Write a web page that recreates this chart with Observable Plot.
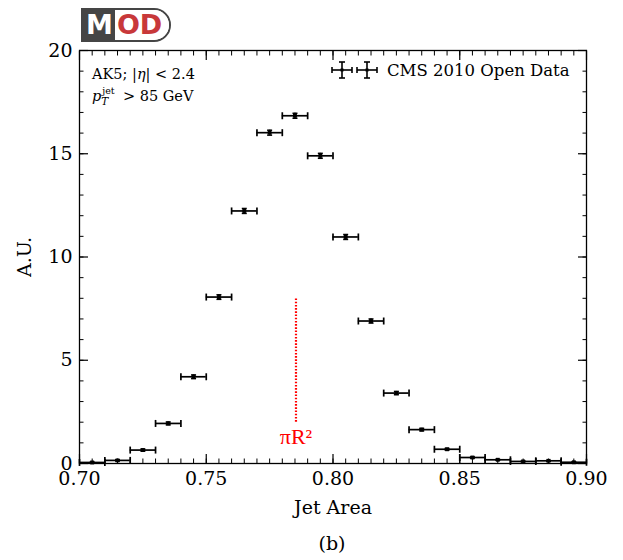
<!DOCTYPE html>
<html><head><meta charset="utf-8">
<script src="https://cdn.jsdelivr.net/npm/d3@7"></script>
<script src="https://cdn.jsdelivr.net/npm/@observablehq/plot@0.6"></script>
<style>
body{margin:0;background:#fff;font-family:"DejaVu Serif",serif;}
#wrap{position:relative;width:623px;height:560px;overflow:hidden;}
#logo{position:absolute;left:81px;top:8px;height:30px;display:flex;align-items:center;border:2.5px solid #454545;border-radius:0 18px 18px 0;overflow:hidden;font-family:"DejaVu Sans",sans-serif;font-weight:bold;font-size:27px;line-height:30px;}
#logo .m{background:#454545;color:#fff;padding:0 2px 0 3px;height:30px;}
#logo .od{color:#c8383a;background:#fff;padding:0 7px 0 2px;height:30px;}
#info{position:absolute;left:92px;top:63px;font-size:14.5px;line-height:22px;color:#000;}
.ss{display:inline-block;position:relative;width:17px;height:10px;}
.ss .sup{position:absolute;left:1px;top:-5px;font-size:9.5px;line-height:9px;}
.ss .sub{position:absolute;left:0px;top:6px;font-size:10.5px;line-height:9px;}
#legend{position:absolute;left:330px;top:59px;display:flex;align-items:center;font-size:16.5px;}
#legend svg{margin-right:7px;}
#cap{position:absolute;left:232px;width:200px;top:532px;text-align:center;font-size:19px;}
</style></head><body>
<div id="wrap">
  <div id="chart"></div>
  <div id="logo"><span class="m">M</span><span class="od">OD</span></div>
  <div id="info">AK5; |<i>η</i>| &lt; 2.4<br><i>p</i><span class="ss"><span class="sup">jet</span><span class="sub"><i>T</i></span></span> &gt; 85 GeV</div>
  <div id="legend"><svg width="50" height="22" viewBox="0 0 50 22">
    <g stroke="#000" stroke-width="1.6">
      <line x1="2" y1="11" x2="22" y2="11"/><line x1="12" y1="3" x2="12" y2="19"/>
      <line x1="2" y1="8" x2="2" y2="14"/><line x1="22" y1="8" x2="22" y2="14"/>
      <line x1="9" y1="3" x2="15" y2="3"/><line x1="9" y1="19" x2="15" y2="19"/>
      <line x1="27" y1="11" x2="47" y2="11"/><line x1="37" y1="3" x2="37" y2="19"/>
      <line x1="27" y1="8" x2="27" y2="14"/><line x1="47" y1="8" x2="47" y2="14"/>
      <line x1="34" y1="3" x2="40" y2="3"/><line x1="34" y1="19" x2="40" y2="19"/>
    </g>
    <rect x="10.5" y="9.5" width="3" height="3" fill="#000"/><rect x="35.5" y="9.5" width="3" height="3" fill="#000"/>
  </svg><span>CMS 2010 Open Data</span></div>
  <div id="cap">(b)</div>
</div>
<script>
// ---- data ----
const binCenters = [0.705,0.715,0.725,0.735,0.745,0.755,0.765,0.775,0.785,0.795,0.805,0.815,0.825,0.835,0.845,0.855,0.865,0.875,0.885,0.895];
const binHalfWidth = 0.005;
const values = [0.05,0.15,0.65,1.94,4.2,8.06,12.23,16.02,16.84,14.9,10.97,6.9,3.41,1.64,0.69,0.29,0.18,0.10,0.13,0.06];
const yErrors = [0.02,0.03,0.05,0.07,0.09,0.11,0.12,0.12,0.12,0.12,0.12,0.10,0.08,0.06,0.04,0.03,0.02,0.02,0.02,0.02];
const xMajorTicks = [0.70,0.75,0.80,0.85,0.90];
const xMinorTicks = d3.range(0,41).map(i => +(0.70 + i*0.005).toFixed(3));
const yMajorTicks = [0,5,10,15,20];
const yMinorTicks = d3.range(0,21);
const jetRadius = 0.5;
const piR2 = Math.PI * jetRadius * jetRadius;
const piR2Line = [{x: piR2, y1: 2.0, y2: 8.0, label: "πR²", ly: 1.3}];

const data = binCenters.map((x,i)=>({x, v: values[i], e: yErrors[i]}));

const capV = {draw(ctx, size){const h=Math.sqrt(size/Math.PI); ctx.moveTo(0,-h); ctx.lineTo(0,h);}};
const capH = {draw(ctx, size){const h=Math.sqrt(size/Math.PI); ctx.moveTo(-h,0); ctx.lineTo(h,0);}};

const blank = () => "";
const chart = Plot.plot({
  width: 623, height: 528,
  marginTop: 50, marginLeft: 79, marginRight: 37, marginBottom: 65,
  style: {fontFamily: "DejaVu Serif, serif", fontSize: "19px", color: "#000", background: "#fff"},
  x: {domain: [0.70, 0.90]},
  y: {domain: [0, 20]},
  marks: [
    Plot.axisX({anchor: "bottom", ticks: xMinorTicks, tickSize: -4.5, tickFormat: blank, label: null, strokeWidth: 1}),
    Plot.axisX({anchor: "top", ticks: xMinorTicks, tickSize: -4.5, tickFormat: blank, label: null, strokeWidth: 1}),
    Plot.axisX({anchor: "bottom", ticks: xMajorTicks, tickSize: -9, tickFormat: blank, label: null, strokeWidth: 1.2}),
    Plot.axisX({anchor: "top", ticks: xMajorTicks, tickSize: -9, tickFormat: blank, label: null, strokeWidth: 1.2}),
    Plot.axisY({anchor: "left", ticks: yMinorTicks, tickSize: -4.5, tickFormat: blank, label: null, strokeWidth: 1}),
    Plot.axisY({anchor: "right", ticks: yMinorTicks, tickSize: -4.5, tickFormat: blank, label: null, strokeWidth: 1}),
    Plot.axisY({anchor: "left", ticks: yMajorTicks, tickSize: -9, tickFormat: blank, label: null, strokeWidth: 1.2}),
    Plot.axisY({anchor: "right", ticks: yMajorTicks, tickSize: -9, tickFormat: blank, label: null, strokeWidth: 1.2}),
    Plot.axisX({anchor: "bottom", ticks: xMajorTicks, tickSize: 0, tickPadding: 8, tickFormat: d3.format(".2f"),
      label: "Jet Area", labelAnchor: "center", labelArrow: "none", labelOffset: 50, fontSize: 19}),
    Plot.axisY({anchor: "left", ticks: yMajorTicks, tickSize: 0, tickPadding: 7, tickFormat: d3.format("d"),
      label: "A.U.", labelAnchor: "center", labelArrow: "none", labelOffset: 62, fontSize: 19}),
    Plot.frame({stroke: "#000", strokeWidth: 1.3}),
    Plot.ruleX(piR2Line, {x: "x", y1: "y1", y2: "y2", stroke: "#ff0000", strokeWidth: 2.2, strokeDasharray: "1.6,1.6"}),
    Plot.text(piR2Line, {x: "x", y: "ly", text: "label", fill: "#ff0000", fontSize: 22, fontFamily: "Liberation Serif, serif"}),
    Plot.ruleY(data, {y: "v", x1: d => d.x - binHalfWidth, x2: d => d.x + binHalfWidth, stroke: "#000", strokeWidth: 1.7}),
    Plot.dot(data, {x: d => d.x - binHalfWidth, y: "v", symbol: capV, r: 3.5, stroke: "#000", strokeWidth: 1.7}),
    Plot.dot(data, {x: d => d.x + binHalfWidth, y: "v", symbol: capV, r: 3.5, stroke: "#000", strokeWidth: 1.7}),
    Plot.ruleX(data, {x: "x", y1: d => d.v - d.e, y2: d => d.v + d.e, stroke: "#000", strokeWidth: 1.7}),
    Plot.dot(data, {x: "x", y: d => d.v + d.e, symbol: capH, r: 2.5, stroke: "#000", strokeWidth: 1.5}),
    Plot.dot(data, {x: "x", y: d => d.v - d.e, symbol: capH, r: 2.5, stroke: "#000", strokeWidth: 1.5}),
    Plot.dot(data, {x: "x", y: "v", symbol: "square", r: 2.2, fill: "#000", stroke: null})
  ]
});
document.getElementById("chart").appendChild(chart);
</script>
</body></html>
